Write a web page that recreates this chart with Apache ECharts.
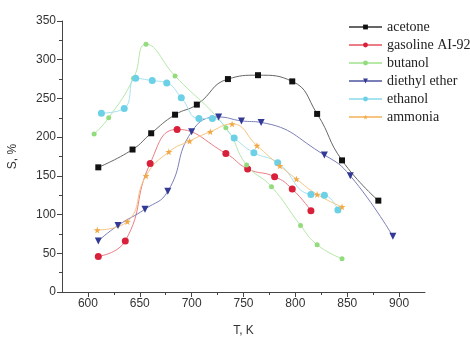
<!DOCTYPE html>
<html>
<head>
<meta charset="utf-8">
<script src="https://cdn.jsdelivr.net/npm/echarts@6/dist/echarts.min.js"></script>
<style>
  html, body { margin: 0; padding: 0; background: #fff; }
  #chart { width: 470px; height: 337px; }
</style>
</head>
<body>
<div id="chart"></div>
<script>
// values: [T, S]
var acetone = [[610, 161], [643, 184], [661, 205], [684, 229], [705, 242], [735, 275], [764, 280], [797, 272], [821, 230], [845, 170], [880, 118]];
var gasoline = [[610, 46], [636, 66], [660, 166], [686, 210], [733, 179], [754, 159], [780, 149], [797, 133], [815, 105]];
var butanol = [[606, 204], [620, 225], [644, 276], [656, 320], [684, 279], [733, 212], [753, 164], [777, 136], [805, 86], [821, 61], [845, 43]];
var diethylEther = [[610, 66], [629, 86], [655, 107], [677, 130], [700, 207], [726, 226], [748, 221], [767, 219], [828, 177], [853, 150], [894, 72]];
var ethanol = [[613, 231], [635, 237], [646, 276], [662, 273], [676, 270], [690, 251], [707, 224], [720, 224], [741, 199], [760, 180], [783, 167], [815, 126], [828, 125], [841, 106]];
var ammonia = [[609, 80], [638, 91], [656, 150], [678, 181], [698, 195], [718, 207], [739, 217], [763, 189], [785, 163], [801, 146], [821, 126], [845, 110]];

var xMajor = [600, 650, 700, 750, 800, 850, 900];
var xMinor = [625, 675, 725, 775, 825, 875];

var star = 'path://M50,0 L61,35 L98,35 L68,57 L79,91 L50,70 L21,91 L32,57 L2,35 L39,35 Z';

function mk(name, data, color, lineColor, symbol, size, rotate) {
  return {
    name: name,
    type: 'line',
    data: data,
    smooth: 0.5,
    symbol: symbol,
    symbolSize: size,
    symbolRotate: rotate || 0,
    showAllSymbol: true,
    itemStyle: { color: color },
    lineStyle: { color: lineColor, width: 1 },
    z: 3
  };
}

var chart = echarts.init(document.getElementById('chart'));
chart.setOption({
  animation: false,
  backgroundColor: '#fff',
  grid: { left: 62, right: 45, top: 21, bottom: 45, outerBoundsMode: 'none', containLabel: false },
  legend: {
    orient: 'vertical',
    left: 343,
    top: 15,
    itemWidth: 33,
    itemHeight: 6,
    itemGap: 4,
    textStyle: { fontFamily: 'Liberation Serif', fontSize: 14, color: '#222' },
    data: ['acetone', 'gasoline AI-92', 'butanol', 'diethyl ether', 'ethanol', 'ammonia']
  },
  xAxis: [{
    type: 'value',
    min: 575,
    max: 925,
    interval: 25,
    name: 'T, K',
    nameLocation: 'middle',
    nameGap: 33,
    nameTextStyle: { fontFamily: 'Liberation Sans', fontSize: 12, color: '#333' },
    splitLine: { show: false },
    axisLine: { lineStyle: { color: '#444' } },
    axisTick: { customValues: xMajor, length: 5, lineStyle: { color: '#444' } },
    axisLabel: { customValues: xMajor, fontFamily: 'Liberation Sans', fontSize: 12, color: '#333', margin: 6 }
  }, {
    type: 'value',
    position: 'bottom',
    min: 575,
    max: 925,
    interval: 25,
    splitLine: { show: false },
    axisLine: { show: false },
    axisTick: { customValues: xMinor, length: 3, lineStyle: { color: '#444' } },
    axisLabel: { show: false }
  }],
  yAxis: {
    type: 'value',
    min: 0,
    max: 350,
    interval: 50,
    name: 'S, %',
    nameLocation: 'middle',
    nameGap: 43,
    nameTextStyle: { fontFamily: 'Liberation Sans', fontSize: 12, color: '#333' },
    splitLine: { show: false },
    axisLine: { show: true, lineStyle: { color: '#444' } },
    axisTick: { length: 5, lineStyle: { color: '#444' } },
    minorTick: { show: true, splitNumber: 2, length: 3, lineStyle: { color: '#444' } },
    axisLabel: { fontFamily: 'Liberation Sans', fontSize: 12, color: '#333', margin: 6 }
  },
  series: [
    mk('acetone', acetone, '#111', '#666', 'rect', 6),
    mk('gasoline AI-92', gasoline, '#d8203a', '#ec7c85', 'circle', 7),
    mk('butanol', butanol, '#93dc7e', '#b6e8a8', 'circle', 5),
    mk('diethyl ether', diethylEther, '#333a96', '#7b7fb8', 'triangle', 7, 180),
    mk('ethanol', ethanol, '#6cd0e6', '#a6e2ef', 'circle', 7),
    mk('ammonia', ammonia, '#f2a845', '#f6c582', star, 7)
  ]
});
</script>
</body>
</html>
